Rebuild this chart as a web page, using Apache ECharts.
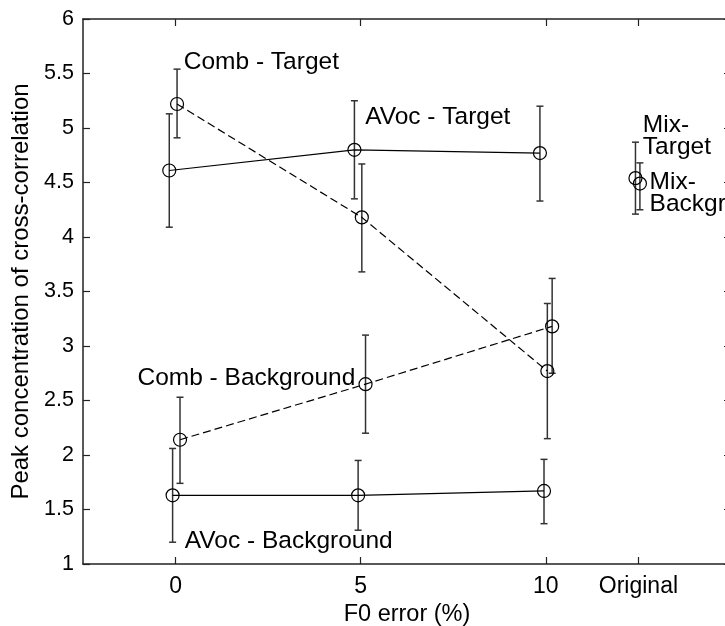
<!DOCTYPE html>
<html>
<head>
<meta charset="utf-8">
<script src="https://cdn.jsdelivr.net/npm/echarts@6/dist/echarts.min.js"></script>
<style>
html,body{margin:0;padding:0;background:#fff;}
#chart{width:725px;height:626px;}
</style>
</head>
<body>
<div id="chart"></div>
<script>
// ---- data ----
const xTickValues = [0, 5, 10, 12.5];
const xTickLabels = ['0', '5', '10', 'Original'];
const xAxisTitle = 'F0 error (%)';
const yAxisTitle = 'Peak concentration of cross-correlation';

const avocTargetX = [-0.17, 4.83, 9.84];
const avocTargetY = [4.61, 4.80, 4.77];
const avocTargetLow = [4.09, 4.35, 4.33];
const avocTargetHigh = [5.13, 5.25, 5.20];

const avocBgX = [-0.08, 4.93, 9.95];
const avocBgY = [1.63, 1.63, 1.67];
const avocBgLow = [1.20, 1.31, 1.37];
const avocBgHigh = [2.06, 1.95, 1.96];

const combTargetX = [0.04, 5.03, 10.04];
const combTargetY = [5.22, 4.18, 2.77];
const combTargetLow = [4.91, 3.68, 2.15];
const combTargetHigh = [5.54, 4.67, 3.39];

const combBgX = [0.12, 5.13, 10.17];
const combBgY = [2.14, 2.65, 3.18];
const combBgLow = [1.74, 2.20, 2.75];
const combBgHigh = [2.53, 3.10, 3.62];

const mixTargetX = [12.42];
const mixTargetY = [4.54];
const mixTargetLow = [4.21];
const mixTargetHigh = [4.87];

const mixBgX = [12.54];
const mixBgY = [4.49];
const mixBgLow = [4.25];
const mixBgHigh = [4.68];

// annotation texts with anchor (data units)
const annotTexts = ['Comb - Target', 'AVoc - Target', 'Comb - Background', 'AVoc - Background', 'Mix-\nTarget', 'Mix-\nBackgr'];
const annotX = [0.22, 5.12, -1.03, 0.25, 12.62, 12.80];
const annotY = [5.60, 5.10, 2.70, 1.205, 4.92, 4.40];

// ---- build ----
const FONT = '"Liberation Sans", Arial, Helvetica, sans-serif';
const pairs = (xs, ys) => xs.map((x, i) => [x, ys[i]]);
const bars = (xs, lo, hi) => xs.map((x, i) => [x, lo[i], hi[i]]);

const errData = [].concat(
  bars(avocTargetX, avocTargetLow, avocTargetHigh),
  bars(avocBgX, avocBgLow, avocBgHigh),
  bars(combTargetX, combTargetLow, combTargetHigh),
  bars(combBgX, combBgLow, combBgHigh),
  bars(mixTargetX, mixTargetLow, mixTargetHigh),
  bars(mixBgX, mixBgLow, mixBgHigh)
);

function lineSeries(name, data, dashed) {
  return {
    name: name, type: 'line', data: data,
    symbol: 'circle', symbolSize: 13,
    itemStyle: { color: 'rgba(0,0,0,0)', borderColor: '#000', borderWidth: 1.2 },
    lineStyle: { color: '#000', width: 1.2, type: dashed ? [8, 4] : 'solid' },
    z: 4, silent: true
  };
}

const chart = echarts.init(document.getElementById('chart'), null, { renderer: 'canvas' });

const axisLineStyle = { onZero: false, lineStyle: { color: '#222', width: 1.5 } };
const tickStyle = { color: '#222', width: 1.2 };

chart.setOption({
  animation: false,
  backgroundColor: '#fff',
  textStyle: { fontFamily: FONT },
  grid: { left: 83, top: 19, width: 648, height: 545, containLabel: false, outerBoundsMode: 'none' },
  xAxis: [
    {
      type: 'value', min: -2.5, max: 15, interval: 2.5, position: 'bottom',
      axisLine: axisLineStyle,
      axisTick: { show: true, inside: true, length: 7, customValues: xTickValues, lineStyle: tickStyle },
      axisLabel: {
        customValues: xTickValues, margin: 11, color: '#000', fontSize: 23, fontFamily: FONT,
        formatter: v => { const i = xTickValues.indexOf(v); return i >= 0 ? xTickLabels[i] : ''; }
      },
      splitLine: { show: false },
      name: xAxisTitle, nameLocation: 'middle', nameGap: 33,
      nameTextStyle: { color: '#000', fontSize: 23.5, fontFamily: FONT }
    },
    {
      type: 'value', min: -2.5, max: 15, interval: 2.5, position: 'top',
      axisLine: axisLineStyle,
      axisTick: { show: true, inside: true, length: 7, customValues: xTickValues, lineStyle: tickStyle },
      axisLabel: { show: false },
      splitLine: { show: false }
    }
  ],
  yAxis: [
    {
      type: 'value', min: 1, max: 6, interval: 0.5, position: 'left',
      axisLine: axisLineStyle,
      axisTick: { show: true, inside: true, length: 7, lineStyle: tickStyle },
      axisLabel: { margin: 9, color: '#000', fontSize: 21.5, fontFamily: FONT },
      splitLine: { show: false },
      name: yAxisTitle, nameLocation: 'middle', nameGap: 47, nameRotate: 90,
      nameTextStyle: { color: '#000', fontSize: 24, fontFamily: FONT }
    },
    {
      type: 'value', min: 1, max: 6, interval: 0.5, position: 'right',
      axisLine: axisLineStyle,
      axisTick: { show: true, inside: true, length: 7, lineStyle: tickStyle },
      axisLabel: { show: false },
      splitLine: { show: false }
    }
  ],
  series: [
    {
      name: 'errorbars', type: 'custom', data: errData,
      encode: { x: 0, y: [1, 2] }, z: 3, silent: true, clip: false,
      renderItem: function (params, api) {
        const x = api.value(0), lo = api.value(1), hi = api.value(2);
        const pt = api.coord([x, hi]), pb = api.coord([x, lo]);
        const w = 3.5;
        const st = { stroke: '#333', lineWidth: 1.5, fill: null };
        return {
          type: 'group',
          children: [
            { type: 'line', shape: { x1: pt[0], y1: pt[1], x2: pb[0], y2: pb[1] }, style: st },
            { type: 'line', shape: { x1: pt[0] - w, y1: pt[1], x2: pt[0] + w, y2: pt[1] }, style: st },
            { type: 'line', shape: { x1: pb[0] - w, y1: pb[1], x2: pb[0] + w, y2: pb[1] }, style: st }
          ]
        };
      }
    },
    lineSeries('AVoc - Target', pairs(avocTargetX, avocTargetY), false),
    lineSeries('AVoc - Background', pairs(avocBgX, avocBgY), false),
    lineSeries('Comb - Target', pairs(combTargetX, combTargetY), true),
    lineSeries('Comb - Background', pairs(combBgX, combBgY), true),
    lineSeries('Mix-Target', pairs(mixTargetX, mixTargetY), false),
    lineSeries('Mix-Background', pairs(mixBgX, mixBgY), false),
    {
      name: 'annotations', type: 'custom', silent: true, clip: false, z: 5,
      data: annotTexts.map((t, i) => [annotX[i], annotY[i], i]),
      encode: { x: 0, y: 1 },
      renderItem: function (params, api) {
        const p = api.coord([api.value(0), api.value(1)]);
        const t = annotTexts[api.value(2)];
        return {
          type: 'text', x: p[0], y: p[1],
          style: { text: t, fill: '#000', font: '24.5px ' + FONT, align: 'left', verticalAlign: 'middle', lineHeight: 22 }
        };
      }
    }
  ]
});
</script>
</body>
</html>
